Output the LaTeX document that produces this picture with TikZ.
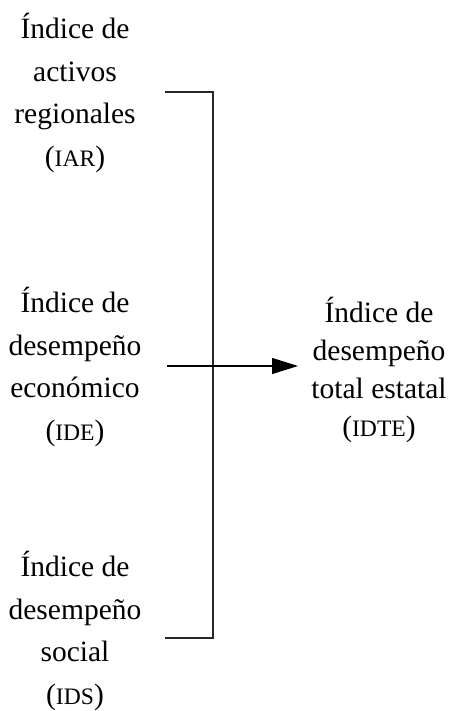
\documentclass[tikz,border=0pt]{standalone}
\usepackage{fontspec}
\usepackage{graphicx}
\setmainfont{Liberation Serif}
\newcommand{\smcap}[1]{\scalebox{0.8}{#1}}
\usetikzlibrary{arrows.meta}
\begin{document}
\begin{tikzpicture}[x=1pt,y=-1pt,
  idx/.style={align=center,inner sep=0pt,font=\fontsize{29.5}{42.5}\selectfont},
  idxr/.style={align=center,inner sep=0pt,font=\fontsize{29.5}{38}\selectfont},
  brk/.style={line width=1.1pt,black!85},
  arr/.style={line width=1.1pt,-{Triangle[length=26pt,width=16pt]}}]
\useasboundingbox (0,0) rectangle (453,711);
\node[idx] (iar) at (75,93) {Índice de\\activos\\regionales\\(\smcap{IAR})};
\node[idx] (ide) at (75,367) {Índice de\\desempeño\\económico\\(\smcap{IDE})};
\node[idx] (ids) at (75,631) {Índice de\\desempeño\\social\\(\smcap{IDS})};
\node[idxr] (idte) at (379,370) {Índice de\\desempeño\\total estatal\\(\smcap{IDTE})};
\coordinate (t0) at (165,92);
\coordinate (t1) at (213,92);
\coordinate (b0) at (165,638);
\coordinate (b1) at (213,638);
\coordinate (m0) at (167,366);
\coordinate (m1) at (298,366);
\draw[brk] (t0) -- (t1) -- (b1) -- (b0);
\draw[arr] (m0) -- (m1);
\end{tikzpicture}
\end{document}
